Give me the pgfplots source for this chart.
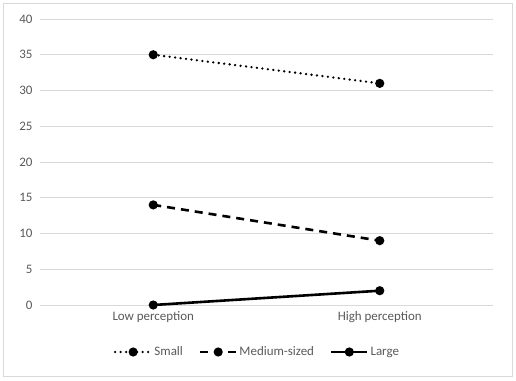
\documentclass[border=0pt]{standalone}
\usepackage{pgfplots}
\pgfplotsset{compat=1.18}
\usepackage{fontspec}
\setmainfont{Carlito}
\definecolor{txt}{HTML}{595959}
\definecolor{gridc}{HTML}{D9D9D9}
\begin{document}
\begin{tikzpicture}[x=1bp,y=1bp]
\useasboundingbox (-40,-75) rectangle (476,305);
\draw[gridc, line width=0.75bp] (-37,-71) rectangle (472,302);
\begin{axis}[
  at={(0,0)}, anchor=south west,
  scale only axis, width=453bp, height=286bp,
  xmin=-0.5, xmax=1.5, ymin=0, ymax=40,
  ytick={0,5,...,40}, xtick={0,1},
  xticklabels={Low perception, High perception},
  axis line style={draw=none}, major tick style={draw=none},
  ymajorgrids, grid style={gridc, line width=0.75bp},
  /pgf/number format/assume math mode=true,
  ticklabel style={font=\fontsize{13}{15}\selectfont, text=txt},
  yticklabel style={xshift=-4bp},
  xticklabel style={yshift=-3bp},
  legend style={at={(0.48,-47/286)}, anchor=center, legend columns=3, draw=none, fill=none,
    font=\fontsize{13}{15}\selectfont, text=txt,
    /tikz/every even column/.append style={column sep=14bp}},
  legend image code/.code={\draw[mark repeat=2,mark phase=2] plot coordinates {(0bp,0bp)(18bp,0bp)(36bp,0bp)};},
]
\addplot[black, line width=2.6bp, line cap=round, dash pattern=on 0bp off 5.5bp, mark=*, mark size=3.2bp, mark options={solid}] coordinates {(0,35) (1,31)};
\addlegendentry{Small}
\addplot[black, line width=2.6bp, dash pattern=on 8bp off 6bp, mark=*, mark size=3.2bp, mark options={solid}] coordinates {(0,14) (1,9)};
\addlegendentry{Medium-sized}
\addplot[black, line width=2.6bp, mark=*, mark size=3.2bp] coordinates {(0,0) (1,2)};
\addlegendentry{Large}
\end{axis}
\end{tikzpicture}
\end{document}
